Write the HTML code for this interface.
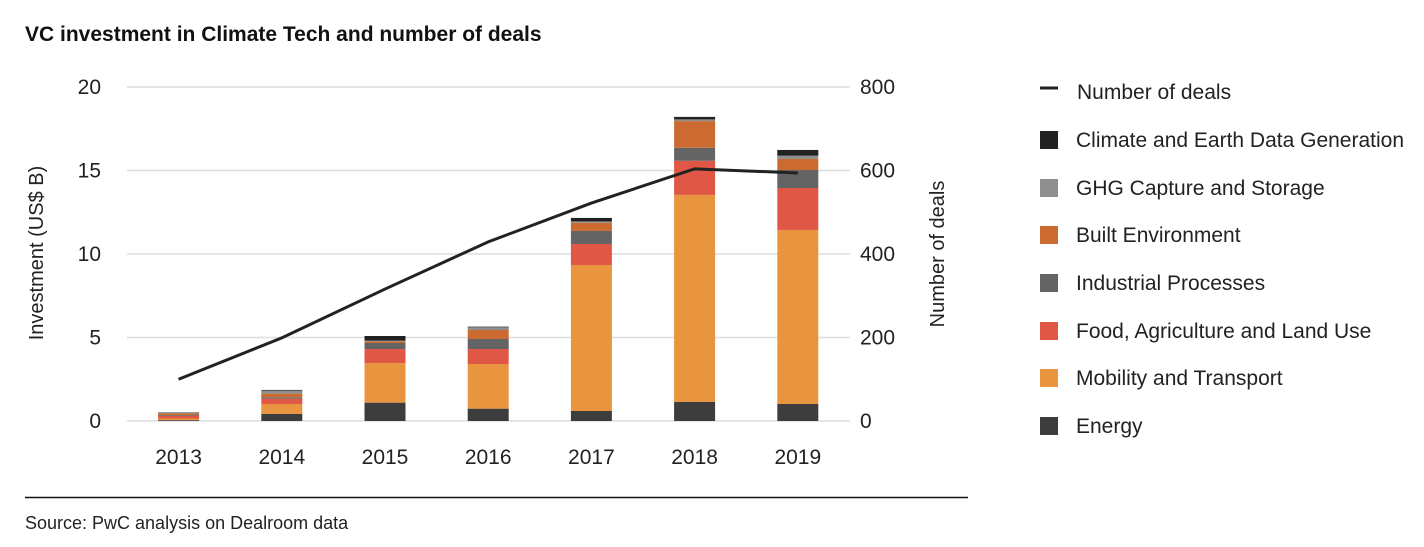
<!DOCTYPE html>
<html><head><meta charset="utf-8"><style>
body{margin:0;background:#fff;font-family:"Liberation Sans",Arial,sans-serif;}
svg text{font-family:"Liberation Sans",Arial,sans-serif;}
</style></head><body>
<svg id="c" width="1424" height="542" xmlns="http://www.w3.org/2000/svg">
<text x="25" y="41" font-size="21" font-weight="bold" fill="#111">VC investment in Climate Tech and number of deals</text>
<g id="grid"></g><g id="bars"></g><g id="line"></g><g id="axes"></g><g id="legend"></g>
<text transform="translate(43,253) rotate(-90)" text-anchor="middle" font-size="20" fill="#222">Investment (US$ B)</text>
<text transform="translate(944,254) rotate(-90)" text-anchor="middle" font-size="20" fill="#222">Number of deals</text>
<line x1="25" y1="497.5" x2="968" y2="497.5" stroke="#111" stroke-width="1.5"/>
<text x="25" y="529" font-size="18" fill="#222">Source: PwC analysis on Dealroom data</text>
</svg>
<script>
const years=["2013","2014","2015","2016","2017","2018","2019"];
const energy=[0.05,0.42,1.1,0.74,0.6,1.14,1.02];
const mobility=[0.1,0.6,2.37,2.67,8.74,12.4,10.42];
const food=[0.15,0.32,0.84,0.9,1.26,2.04,2.51];
const industrial=[0.05,0.08,0.36,0.6,0.78,0.78,1.08];
const built=[0.1,0.22,0.1,0.54,0.49,1.6,0.66];
const ghg=[0.05,0.18,0.04,0.16,0.08,0.1,0.2];
const climate=[0.02,0.04,0.28,0.04,0.21,0.15,0.34];
const deals=[100,199,316,429,522,604,594];
const leftTicks=[0,5,10,15,20];
const rightTicks=[0,200,400,600,800];
const seriesNames=["Energy","Mobility and Transport","Food, Agriculture and Land Use","Industrial Processes","Built Environment","GHG Capture and Storage","Climate and Earth Data Generation"];
const seriesColors=["#3d3d3d","#e99540","#e05746","#646464","#cb6b31","#8f8f8f","#222222"];
const series=[energy,mobility,food,industrial,built,ghg,climate];
const NS="http://www.w3.org/2000/svg";
const y0=421,yTop=87,x0=127,step=103.2,bw=41;
const yL=v=>y0-(v/20)*(y0-yTop);
const yR=v=>y0-(v/800)*(y0-yTop);
const xC=i=>x0+step*(i+0.5);
function mk(t,a,p){const e=document.createElementNS(NS,t);for(const k in a)e.setAttribute(k,a[k]);document.getElementById(p).appendChild(e);return e;}
leftTicks.forEach((t,i)=>{
 const g=mk('line',{x1:127,x2:850,y1:yL(t),y2:yL(t),stroke:'#dedede','stroke-width':1.5},'grid');
 
 
 const l=mk('text',{x:101,y:yL(t)+7,'text-anchor':'end','font-size':21,fill:'#222'},'axes');l.textContent=t;
 
 
});
rightTicks.forEach(t=>{
 const l=mk('text',{x:860,y:yR(t)+7,'font-size':21,fill:'#222'},'axes');l.textContent=t;
 
 
});
years.forEach((yr,i)=>{
 let acc=0;
 series.forEach((s,k)=>{
  const top=yL(acc+s[i]),bot=yL(acc);
  const r=mk('rect',{x:xC(i)-bw/2,y:top,width:bw,height:Math.max(0,bot-top),fill:seriesColors[k]},'bars');
  
  
  acc+=s[i];
 });
 const l=mk('text',{x:xC(i),y:464,'text-anchor':'middle','font-size':21,fill:'#222'},'axes');l.textContent=yr;
 
 
});
const p=mk('polyline',{points:deals.map((d,i)=>xC(i)+','+yR(d)).join(' '),fill:'none',stroke:'#222','stroke-width':3},'line');


const ly=[91,139,187,234,282,330,377,425];
const ll=mk('line',{x1:1040,x2:1058,y1:88,y2:88,stroke:'#222','stroke-width':3},'legend');


const lt=mk('text',{x:1077,y:99,'font-size':21,fill:'#222'},'legend');lt.textContent="Number of deals";


for(let j=0;j<7;j++){
 const k=6-j;const y=ly[j+1];
 const r=mk('rect',{x:1040,y:y-8,width:18,height:18,fill:seriesColors[k]},'legend');
 
 
 const t=mk('text',{x:1076,y:y+8,'font-size':21,fill:'#222'},'legend');t.textContent=seriesNames[k];
 
 
}
</script>
</body></html>
